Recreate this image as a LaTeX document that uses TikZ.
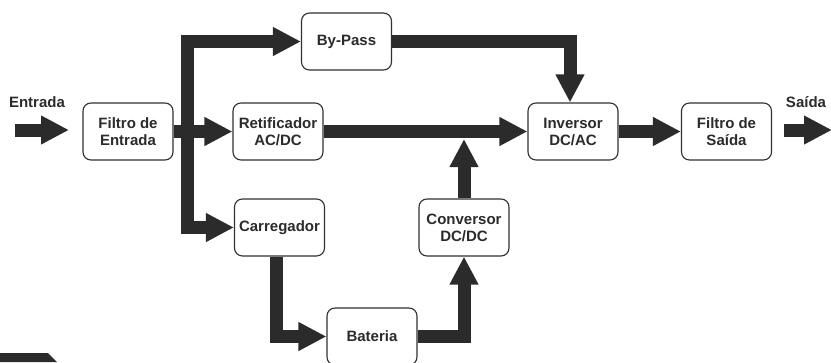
\documentclass[tikz,border=0pt]{standalone}
\usepackage{fontspec}
\setmainfont{Liberation Sans}
\usetikzlibrary{arrows.meta,positioning}
\definecolor{barra}{HTML}{2B2B2B}
\definecolor{borda}{HTML}{303030}

\begin{document}
\begin{tikzpicture}[x=1pt,y=-1pt,
  >={Triangle[length=28pt,width=27pt]},
  bloco/.style={draw=borda,line width=1.1pt,rounded corners=8pt,fill=white,
    minimum width=90pt,minimum height=57pt,inner sep=1pt,align=center,
    text=barra,font=\fontsize{15}{17}\selectfont\bfseries},
  fluxo/.style={draw=barra,line width=13pt},
  rotulo/.style={text=barra,font=\fontsize{15}{17}\selectfont\bfseries}]
  \useasboundingbox (0,0) rectangle (831,362);

  % Blocos
  \node[bloco] (filtroE) at (128,131.5) {Filtro de\\Entrada};
  \node[bloco] (bypass) at (346.5,41.5) {By-Pass};
  \node[bloco] (retif) at (278,131.5) {Retificador\\AC/DC};
  \node[bloco] (carreg) at (279.5,227.5) {Carregador};
  \node[bloco] (bateria) at (372,336.5) {Bateria};
  \node[bloco] (conversor) at (464,227.5) {Conversor\\DC/DC};
  \node[bloco] (inversor) at (573,131.5) {Inversor\\DC/AC};
  \node[bloco] (filtroS) at (726.5,131.5) {Filtro de\\Saída};

  % Entrada e saida
  \node[rotulo] (lblEnt) at (37,102) {Entrada};
  \coordinate (entIni) at (15,130);
  \coordinate (entFim) at (69,130);
  \draw[fluxo,->] (entIni) -- (entFim);
  \node[rotulo] (lblSai) at (806,102) {Saída};
  \coordinate (saiIni) at (784,130);
  \coordinate (saiFim) at (832,130);
  \draw[fluxo,->] (saiIni) -- (saiFim);

  % Caminho principal
  \coordinate (barramento) at (187.5,131.5);
  \draw[fluxo,<->] (bypass.west) -| (barramento) |- (carreg.west);
  \draw[fluxo,->] (filtroE.east) -- (retif.west);
  \draw[fluxo,->] (retif.east) -- (inversor.west);
  \draw[fluxo,->] (bypass.east) -| ([xshift=-3pt]inversor.north);
  \draw[fluxo,->] (inversor.east) -- (filtroS.west);

  % Bateria
  \coordinate (juncao) at (464,139);
  \draw[fluxo,->] ([xshift=-3.5pt]carreg.south) |- (bateria.west);
  \draw[fluxo,->] (bateria.east) -| (conversor.south);
  \draw[fluxo,->] (conversor.north) -- (juncao);

  % Resto no canto
  \fill[barra] (0,353) -- (48,353) -- (57,362) -- (0,362) -- cycle;
\end{tikzpicture}
\end{document}
